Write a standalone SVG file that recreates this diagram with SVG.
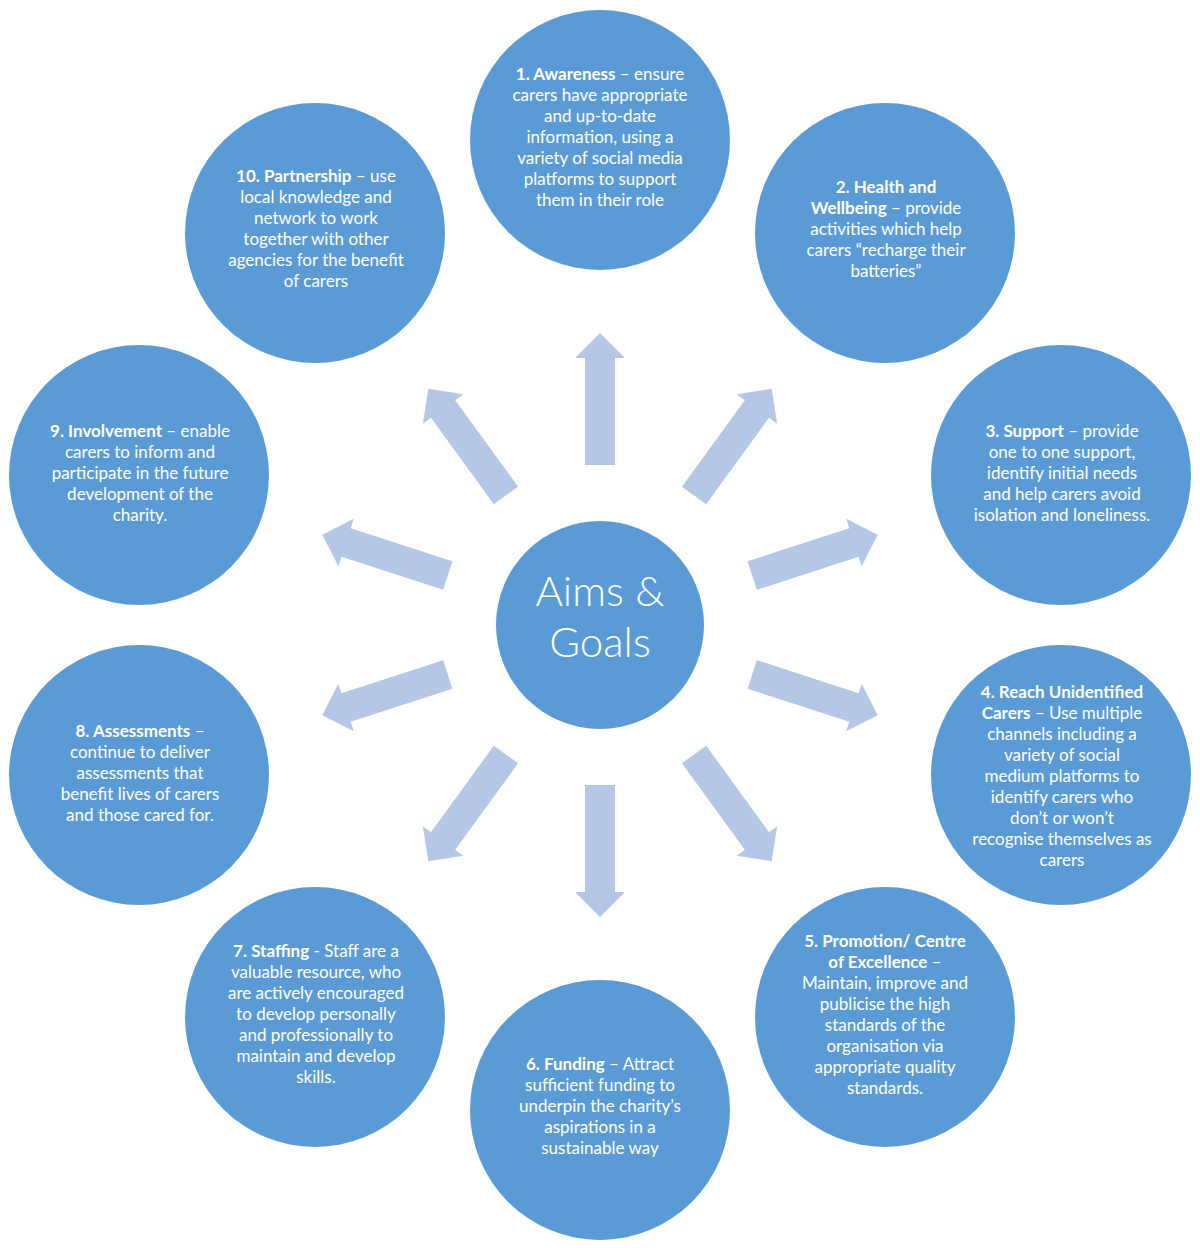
<svg xmlns="http://www.w3.org/2000/svg" width="1200" height="1248" viewBox="0 0 1200 1248">
<style>
.node{fill:#5B9BD5}
.arrow{fill:#B4C7E7}
.t{font-family:Lato,"Open Sans","Liberation Sans",sans-serif;font-size:17px;fill:#FFFFFF;text-anchor:middle}
.t .b{font-weight:bold}
.c{font-family:Lato,"Open Sans","Liberation Sans",sans-serif;font-size:42px;font-weight:300;fill:#FFFFFF;text-anchor:middle}
</style>
<defs>
<polygon id="arr" points="-15,-160 -15,-267 -25,-267 0,-292 25,-267 15,-267 15,-160"/>
</defs>
<rect width="1200" height="1248" fill="#FFFFFF"/>
<g id="connectors" class="arrow">
<use href="#arr" transform="translate(600,625) rotate(0)"/>
<use href="#arr" transform="translate(600,625) rotate(36)"/>
<use href="#arr" transform="translate(600,625) rotate(72)"/>
<use href="#arr" transform="translate(600,625) rotate(108)"/>
<use href="#arr" transform="translate(600,625) rotate(144)"/>
<use href="#arr" transform="translate(600,625) rotate(180)"/>
<use href="#arr" transform="translate(600,625) rotate(216)"/>
<use href="#arr" transform="translate(600,625) rotate(252)"/>
<use href="#arr" transform="translate(600,625) rotate(288)"/>
<use href="#arr" transform="translate(600,625) rotate(324)"/>
</g>
<g id="center">
<circle class="node" cx="600" cy="625" r="104"/>
<text class="c"><tspan x="600" y="606">Aims &amp;</tspan><tspan x="600" y="657">Goals</tspan></text>
</g>
<g id="n1">
<circle class="node" cx="600" cy="140" r="130"/>
<text class="t"><tspan x="600" y="80"><tspan class="b">1. Awareness</tspan> – ensure</tspan><tspan x="600" y="101">carers have appropriate</tspan><tspan x="600" y="122">and up-to-date</tspan><tspan x="600" y="143">information, using a</tspan><tspan x="600" y="164">variety of social media</tspan><tspan x="600" y="185">platforms to support</tspan><tspan x="600" y="206">them in their role</tspan></text>
</g>
<g id="n2">
<circle class="node" cx="885" cy="233" r="130"/>
<text class="t"><tspan x="886" y="193" class="b">2. Health and</tspan><tspan x="886" y="214"><tspan class="b">Wellbeing</tspan> – provide</tspan><tspan x="886" y="235">activities which help</tspan><tspan x="886" y="256">carers “recharge their</tspan><tspan x="886" y="277">batteries”</tspan></text>
</g>
<g id="n3">
<circle class="node" cx="1061" cy="475" r="130"/>
<text class="t"><tspan x="1062" y="437"><tspan class="b">3. Support</tspan> – provide</tspan><tspan x="1062" y="458">one to one support,</tspan><tspan x="1062" y="479">identify initial needs</tspan><tspan x="1062" y="500">and help carers avoid</tspan><tspan x="1062" y="521">isolation and loneliness.</tspan></text>
</g>
<g id="n4">
<circle class="node" cx="1061" cy="775" r="130"/>
<text class="t"><tspan x="1062" y="698" class="b">4. Reach Unidentified</tspan><tspan x="1062" y="719"><tspan class="b">Carers</tspan> – Use multiple</tspan><tspan x="1062" y="740">channels including a</tspan><tspan x="1062" y="761">variety of social</tspan><tspan x="1062" y="782">medium platforms to</tspan><tspan x="1062" y="803">identify carers who</tspan><tspan x="1062" y="824">don’t or won’t</tspan><tspan x="1062" y="845">recognise themselves as</tspan><tspan x="1062" y="866">carers</tspan></text>
</g>
<g id="n5">
<circle class="node" cx="885" cy="1017" r="130"/>
<text class="t"><tspan x="885" y="947" class="b">5. Promotion/ Centre</tspan><tspan x="885" y="968"><tspan class="b">of Excellence</tspan> –</tspan><tspan x="885" y="989">Maintain, improve and</tspan><tspan x="885" y="1010">publicise the high</tspan><tspan x="885" y="1031">standards of the</tspan><tspan x="885" y="1052">organisation via</tspan><tspan x="885" y="1073">appropriate quality</tspan><tspan x="885" y="1094">standards.</tspan></text>
</g>
<g id="n6">
<circle class="node" cx="600" cy="1110" r="130"/>
<text class="t"><tspan x="600" y="1070"><tspan class="b">6. Funding</tspan> – Attract</tspan><tspan x="600" y="1091">sufficient funding to</tspan><tspan x="600" y="1112">underpin the charity’s</tspan><tspan x="600" y="1133">aspirations in a</tspan><tspan x="600" y="1154">sustainable way</tspan></text>
</g>
<g id="n7">
<circle class="node" cx="315" cy="1017" r="130"/>
<text class="t"><tspan x="316" y="957"><tspan class="b">7. Staffing</tspan> - Staff are a</tspan><tspan x="316" y="978">valuable resource, who</tspan><tspan x="316" y="999">are actively encouraged</tspan><tspan x="316" y="1020">to develop personally</tspan><tspan x="316" y="1041">and professionally to</tspan><tspan x="316" y="1062">maintain and develop</tspan><tspan x="316" y="1083">skills.</tspan></text>
</g>
<g id="n8">
<circle class="node" cx="139" cy="775" r="130"/>
<text class="t"><tspan x="140" y="737"><tspan class="b">8. Assessments</tspan> –</tspan><tspan x="140" y="758">continue to deliver</tspan><tspan x="140" y="779">assessments that</tspan><tspan x="140" y="800">benefit lives of carers</tspan><tspan x="140" y="821">and those cared for.</tspan></text>
</g>
<g id="n9">
<circle class="node" cx="139" cy="475" r="130"/>
<text class="t"><tspan x="140" y="437"><tspan class="b">9. Involvement</tspan> – enable</tspan><tspan x="140" y="458">carers to inform and</tspan><tspan x="140" y="479">participate in the future</tspan><tspan x="140" y="500">development of the</tspan><tspan x="140" y="521">charity.</tspan></text>
</g>
<g id="n10">
<circle class="node" cx="315" cy="233" r="130"/>
<text class="t"><tspan x="316" y="182"><tspan class="b">10. Partnership</tspan> – use</tspan><tspan x="316" y="203">local knowledge and</tspan><tspan x="316" y="224">network to work</tspan><tspan x="316" y="245">together with other</tspan><tspan x="316" y="266">agencies for the benefit</tspan><tspan x="316" y="287">of carers</tspan></text>
</g>
</svg>
